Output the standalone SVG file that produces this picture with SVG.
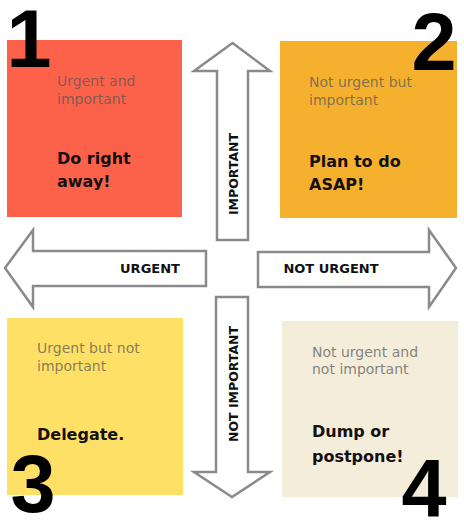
<svg xmlns="http://www.w3.org/2000/svg" width="464" height="521" viewBox="0 0 464 521">
<style>
.sub{font-family:"DejaVu Sans",sans-serif;font-size:14px;fill:#555;fill-opacity:0.72}
.main{font-family:"DejaVu Sans",sans-serif;font-size:16px;font-weight:bold;fill:#141010}
.num{font-family:"Liberation Sans",Arial,sans-serif;font-size:81px;font-weight:bold;fill:#000;text-anchor:middle}
.arr{fill:#fff;stroke:#8a8a8a;stroke-width:2.5;stroke-linejoin:miter}
.lab{font-family:"DejaVu Sans",sans-serif;font-size:12.5px;font-weight:bold;fill:#111}
</style>
<rect width="464" height="521" fill="#fff"/>
<g id="connectors">
  <g id="arrow-important">
    <polygon class="arr" points="232.5,43 270,71 248,71 248,240 217,240 217,71 194,71"/>
    <text class="lab" text-anchor="middle" transform="translate(238,174) rotate(-90)">IMPORTANT</text>
  </g>
  <g id="arrow-not-important">
    <polygon class="arr" points="216,297 248,297 248,472 270,472 232,497 194,472 216,472"/>
    <text class="lab" text-anchor="middle" transform="translate(238,384) rotate(-90)">NOT IMPORTANT</text>
  </g>
  <g id="arrow-urgent">
    <polygon class="arr" points="5,268 33,230 33,251 206,251 206,286 33,286 33,307"/>
    <text class="lab" x="150" y="273" text-anchor="middle" style="font-size:13px">URGENT</text>
  </g>
  <g id="arrow-not-urgent">
    <polygon class="arr" points="258,252 429,252 429,230 456,268 429,307 429,287 258,287"/>
    <text class="lab" x="331" y="273" text-anchor="middle" style="font-size:13px">NOT URGENT</text>
  </g>
</g>
<g id="q1">
  <rect x="7" y="40" width="175" height="177" fill="#FC6249"/>
  <text class="sub" x="57" y="86">Urgent and</text>
  <text class="sub" x="57" y="104">important</text>
  <text class="main" x="57" y="164">Do right</text>
  <text class="main" x="57" y="187">away!</text>
  <text class="num" x="29" y="67">1</text>
</g>
<g id="q2">
  <rect x="280" y="41" width="177" height="177" fill="#F5B12E"/>
  <text class="sub" x="309" y="87">Not urgent but</text>
  <text class="sub" x="309" y="105">important</text>
  <text class="main" x="309" y="167">Plan to do</text>
  <text class="main" x="309" y="190">ASAP!</text>
  <text class="num" x="434" y="70">2</text>
</g>
<g id="q3">
  <rect x="7" y="318" width="176" height="177" fill="#FFE066"/>
  <text class="sub" x="37" y="353">Urgent but not</text>
  <text class="sub" x="37" y="371">important</text>
  <text class="main" x="37" y="440">Delegate.</text>
  <text class="num" x="33" y="512">3</text>
</g>
<g id="q4">
  <rect x="282" y="321" width="176" height="176" fill="#F3EDDA"/>
  <text class="sub" x="312" y="357">Not urgent and</text>
  <text class="sub" x="312" y="374">not important</text>
  <text class="main" x="312" y="437">Dump or</text>
  <text class="main" x="312" y="462">postpone!</text>
  <text class="num" x="424" y="516">4</text>
</g>
</svg>
